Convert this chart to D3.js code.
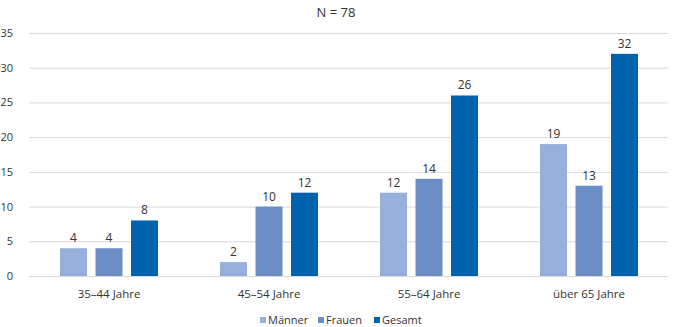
<!DOCTYPE html>
<html><head><meta charset="utf-8">
<script src="https://cdn.jsdelivr.net/npm/d3@7"></script>
<style>body{margin:0;background:#fff}svg{display:block}text{font-family:"Open Sans","Noto Sans",sans-serif;fill:#333}</style>
</head><body><svg id="c" width="673" height="327"></svg>
<script>
const categories = ["35–44 Jahre","45–54 Jahre","55–64 Jahre","über 65 Jahre"];
const seriesNames = ["Männer","Frauen","Gesamt"];
const maenner = [4,2,12,19];
const frauen = [4,10,14,13];
const gesamt = [8,12,26,32];
const yTicks = [0,5,10,15,20,25,30,35];
const colors = ["#95b0da","#6a8fc6","#0063ae"];
const title = "N = 78";

const values = [maenner, frauen, gesamt];
const svg = d3.select("#c");
const x = d3.scaleBand().domain(categories).range([29, 669]);
const y = d3.scaleLinear().domain([0,35]).range([276, 33]);
const inner = d3.scaleBand().domain(seriesNames).range([0, 98]).paddingInner(0.24);

svg.append("text").attr("x",336).attr("y",17).attr("text-anchor","middle").style("font-size","13px").text(title);

svg.append("g").selectAll("line").data(yTicks).join("line")
  .attr("x1",29).attr("x2",668).attr("y1",d=>y(d)+0.5).attr("y2",d=>y(d)+0.5)
  .attr("stroke","#d9d9d9").attr("stroke-width",1);
svg.append("g").selectAll("text").data(yTicks).join("text")
  .attr("x",13).attr("y",d=>y(d)+4).attr("text-anchor","end").style("font-size","11px").text(d=>d);

const groups = svg.append("g").selectAll("g").data(categories).join("g")
  .attr("transform",c=>`translate(${x(c)+x.bandwidth()/2-49},0)`);
seriesNames.forEach((s,si)=>{
  groups.append("rect")
    .attr("x",inner(s)).attr("width",inner.bandwidth())
    .attr("y",(c,i)=>y(values[si][i])).attr("height",(c,i)=>y(0)-y(values[si][i]))
    .attr("fill",colors[si]);
  groups.append("text")
    .attr("x",inner(s)+inner.bandwidth()/2).attr("y",(c,i)=>y(values[si][i])-6)
    .attr("text-anchor","middle").style("font-size","12px").text((c,i)=>values[si][i]);
});
svg.append("g").selectAll("text").data(categories).join("text")
  .attr("x",c=>x(c)+x.bandwidth()/2).attr("y",298).attr("text-anchor","middle").style("font-size","11.5px").text(c=>c);

const legX = [260, 318, 374];
const leg = svg.append("g").selectAll("g").data(seriesNames).join("g")
  .attr("transform",(d,i)=>`translate(${legX[i]},0)`);
leg.append("rect").attr("x",0).attr("y",317).attr("width",6).attr("height",6).attr("fill",(d,i)=>colors[i]);
leg.append("text").attr("x",8).attr("y",324).style("font-size","11px").text(d=>d);
</script></body></html>
